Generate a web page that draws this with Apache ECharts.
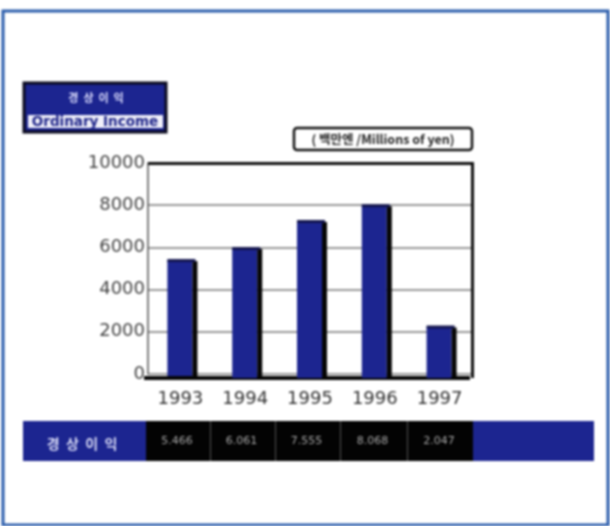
<!DOCTYPE html>
<html>
<head>
<meta charset="utf-8">
<script src="https://cdn.jsdelivr.net/npm/echarts@6/dist/echarts.min.js"></script>
<style>
html,body{margin:0;padding:0;background:#fff}
#c{width:610px;height:526px;filter:blur(1px)}
</style>
</head>
<body>
<div id="c"></div>
<script>
const categories = ['1993','1994','1995','1996','1997'];
const barValues = [5400,5970,7250,8000,2250];
const tableValues = ['5.466','6.061','7.555','8.068','2.047'];
const yTicks = [0,2000,4000,6000,8000,10000];
const legendKo = '경상이익';
const legendEn = 'Ordinary Income';
const unitLabel = '( 백만엔 /Millions of yen)';

const BLUE = '#1c2590';
const KO = '"Noto Sans CJK KR",sans-serif';
const chart = echarts.init(document.getElementById('c'));

const cellEdges = [146,210,275,340,407,473];
const graphic = [
  {type:'rect',shape:{x:3,y:11,width:605,height:514},style:{fill:'none',stroke:'#2a5cab',lineWidth:3},z:0},
  {type:'rect',shape:{x:24,y:83,width:142,height:49},style:{fill:BLUE,stroke:'#0a0a1e',lineWidth:3},z:1},
  {type:'rect',shape:{x:28,y:115,width:135,height:13},style:{fill:'#f0f0fa'},z:2},
  {type:'text',style:{x:96,y:98,text:legendKo.split('').join('  '),fill:'#dfe0ff',font:'bold 11px '+KO,align:'center',verticalAlign:'middle'},z:3},
  {type:'text',style:{x:95,y:122,text:legendEn,fill:'#20268a',font:'bold 13.5px "DejaVu Sans",sans-serif',align:'center',verticalAlign:'middle'},z:3},
  {type:'rect',shape:{x:294,y:128,width:178,height:22,r:3},style:{fill:'#fff',stroke:'#111',lineWidth:2.5},z:1},
  {type:'text',style:{x:383,y:139,text:unitLabel,fill:'#222',font:'bold 12.5px '+KO,align:'center',verticalAlign:'middle'},z:3},
  {type:'rect',shape:{x:23,y:421,width:571,height:40},style:{fill:BLUE},z:1},
  {type:'rect',shape:{x:146,y:421,width:327,height:40},style:{fill:'#030303'},z:2},
  {type:'text',style:{x:82,y:444,text:legendKo.split('').join('  '),fill:'#d8daf5',font:'bold 14px '+KO,align:'center',verticalAlign:'middle'},z:3}
];
tableValues.forEach((v,i)=>{
  graphic.push({type:'text',style:{x:(cellEdges[i]+cellEdges[i+1])/2-1,y:441,text:v,fill:'#a8a8a8',font:'11px "DejaVu Sans",sans-serif',align:'center',verticalAlign:'middle'},z:3});
  if(i>0) graphic.push({type:'rect',shape:{x:cellEdges[i],y:421,width:1,height:40},style:{fill:'#555'},z:3});
});

chart.setOption({
  animation:false,
  backgroundColor:'#fff',
  graphic,
  grid:{left:148,top:163,width:324,height:211,show:false},
  xAxis:{
    type:'category',data:categories,
    axisTick:{show:false},
    axisLine:{show:false},
    axisLabel:{color:'#333',fontFamily:'DejaVu Sans',fontSize:18,margin:16}
  },
  yAxis:{
    type:'value',min:yTicks[0],max:yTicks[yTicks.length-1],interval:2000,
    axisLine:{show:true,lineStyle:{color:'#555',width:1.5}},
    axisTick:{show:false},
    splitLine:{show:true,lineStyle:{color:'#777',width:1.5}},
    axisLabel:{color:'#444',fontFamily:'DejaVu Sans',fontSize:18,margin:3,
      formatter:v=>v}
  },
  series:[
    {
      type:'custom',
      coordinateSystem:'cartesian2d',
      data:barValues.map((v,i)=>[i,v]),
      encode:{x:0,y:1},
      z:5,
      renderItem(params,api){
        const top=api.coord([api.value(0),api.value(1)]);
        const base=api.coord([api.value(0),0]);
        const cs=params.coordSys;
        const left=top[0]-13, w=25, side=5, drop=4;
        const children=[
          {type:'rect',shape:{x:left,y:top[1],width:w,height:base[1]-top[1]+drop},style:{fill:'#1c2590'}},
          {type:'rect',shape:{x:left+w,y:top[1]+1,width:side,height:base[1]-top[1]+drop},style:{fill:'#050505'}},
          {type:'rect',shape:{x:left,y:top[1]-1,width:w+side-2,height:3},style:{fill:'#14164f'}}
        ];
        if(params.dataIndex===0){
          children.push(
            {type:'rect',shape:{x:cs.x-4,y:base[1]+2,width:cs.width+2,height:4},style:{fill:'#050505'}},
            {type:'rect',shape:{x:cs.x,y:cs.y-1,width:cs.width,height:3},style:{fill:'#111'}},
            {type:'rect',shape:{x:cs.x+cs.width-1,y:cs.y-1,width:3,height:cs.height+5},style:{fill:'#111'}}
          );
        }
        return {type:'group',children};
      }
    }
  ]
});
</script>
</body>
</html>
